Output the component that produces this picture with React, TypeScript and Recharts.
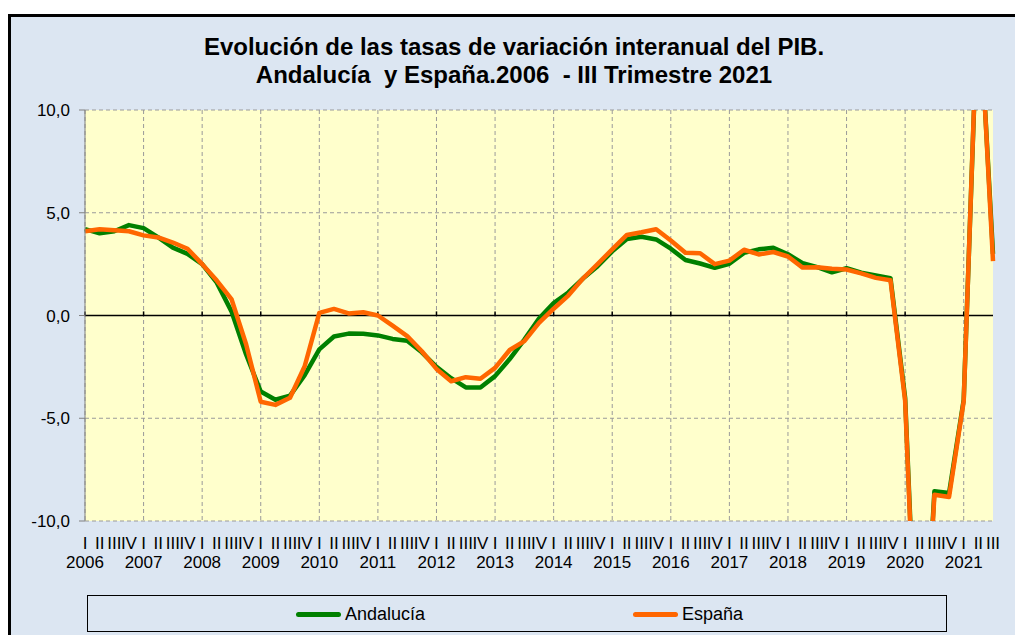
import React from 'react';
import { LineChart, Line, XAxis, YAxis, CartesianGrid, ReferenceLine } from 'recharts';

const years = [2006, 2007, 2008, 2009, 2010, 2011, 2012, 2013, 2014, 2015, 2016, 2017, 2018, 2019, 2020, 2021];
const quarters = ['I', 'II', 'III', 'IV'];

const andalucia = [
  4.2, 4.0, 4.1, 4.4,
  4.25, 3.8, 3.3, 3.0,
  2.5, 1.6, 0.2, -1.9,
  -3.7, -4.1, -3.9, -2.9,
  -1.65, -1.02, -0.88, -0.89,
  -0.97, -1.14, -1.23, -1.79,
  -2.5, -3.05, -3.5, -3.5,
  -2.95, -2.12, -1.17, -0.15,
  0.6, 1.12, 1.8, 2.4,
  3.12, 3.72, 3.83, 3.7,
  3.25, 2.7, 2.53, 2.32,
  2.52, 3.05, 3.22, 3.3,
  2.98, 2.55, 2.35, 2.1,
  2.3, 2.08, 1.95, 1.82,
  -4.0, -21.0, -8.55, -8.64,
  -4.1, 16.0, 3.0,
];

const espana = [
  4.1, 4.2, 4.15, 4.1,
  3.9, 3.8, 3.55, 3.25,
  2.5, 1.7, 0.8, -1.4,
  -4.2, -4.35, -4.0, -2.47,
  0.13, 0.32, 0.1, 0.16,
  0.0, -0.49, -1.0, -1.74,
  -2.6, -3.2, -3.0, -3.08,
  -2.55, -1.68, -1.25, -0.36,
  0.33, 0.97, 1.8, 2.5,
  3.22, 3.92, 4.05, 4.2,
  3.65, 3.05, 3.03, 2.5,
  2.67, 3.2, 2.97, 3.09,
  2.87, 2.33, 2.35, 2.27,
  2.24, 2.05, 1.83, 1.72,
  -4.15, -21.5, -8.72, -8.83,
  -4.17, 16.2, 2.65,
];

const yTicks = [-10, -5, 0, 5, 10];
const seriesKeys = ['and', 'esp'];
const seriesNames = ['Andalucía', 'España'];
const seriesColors = ['#008000', '#ff6600'];
const titleLines = ['Evolución de las tasas de variación interanual del PIB.', 'Andalucía  y España.2006  - III Trimestre 2021'];

const allCats: string[] = [];
years.forEach((y) => quarters.forEach((q) => allCats.push(`${q} ${y}`)));
const cats = allCats.slice(0, andalucia.length);
const data = cats.map((c, i) => ({ cat: c, and: andalucia[i], esp: espana[i] }));
const yearCats = cats.filter((c) => c.startsWith('I '));

const QTick = (props: any) => {
  const { x, y, payload } = props;
  const [q, yr] = String(payload.value).split(' ');
  return (
    <g>
      <text x={x} y={y + 28} textAnchor="middle" fontSize={17} fill="#000">{q}</text>
      {q === 'I' && (
        <text x={x} y={y + 47} textAnchor="middle" fontSize={17} fill="#000">{yr}</text>
      )}
    </g>
  );
};

const fmt = (v: number) => v.toFixed(1).replace('.', ',');

export default function App() {
  const font = '"Liberation Sans", Arial, sans-serif';
  return (
    <div style={{ position: 'fixed', left: 0, top: 0, width: 1015, height: 635, overflow: 'hidden', fontFamily: font }}>
      <div
        style={{
          position: 'absolute', left: 8, top: 14, width: 1007, height: 621, boxSizing: 'border-box',
          borderLeft: '3px solid #000', borderTop: '3px solid #000', background: '#dce6f2',
        }}
      />
      <div
        style={{
          position: 'absolute', left: 14, top: 33, width: 1000, textAlign: 'center', fontWeight: 'bold',
          fontSize: 24, lineHeight: '28px', whiteSpace: 'pre', color: '#000',
        }}
      >
        {titleLines.map((t) => (
          <div key={t}>{t}</div>
        ))}
      </div>
      <div style={{ position: 'absolute', left: 0, top: 0 }}>
        <LineChart width={1015} height={635} data={data} margin={{ top: 110, right: 22, bottom: 54, left: 0 }}>
          <CartesianGrid
            fill="#ffffcc"
            stroke="#9a9a9a"
            strokeDasharray="4 3"
            verticalValues={yearCats}
            horizontalValues={yTicks}
          />
          <XAxis
            dataKey="cat"
            interval={0}
            tickLine={false}
            axisLine={false}
            tickSize={0}
            tickMargin={0}
            height={60}
            tick={<QTick />}
          />
          <YAxis
            type="number"
            domain={[-10, 10]}
            ticks={yTicks}
            allowDataOverflow
            width={85}
            tickFormatter={fmt}
            tickSize={6}
            tickMargin={9}
            axisLine={{ stroke: '#808080' }}
            tickLine={{ stroke: '#808080' }}
            tick={{ fontSize: 17, fill: '#000' }}
          />
          <ReferenceLine y={0} stroke="#000" strokeWidth={1.5} />
          {yearCats.map((c) => (
            <ReferenceLine key={c} segment={[{ x: c, y: 0 }, { x: c, y: 0.2 }]} stroke="#000" strokeWidth={1.5} />
          ))}
          {seriesKeys.map((k, i) => (
            <Line
              key={k}
              type="linear"
              dataKey={k}
              name={seriesNames[i]}
              stroke={seriesColors[i]}
              strokeWidth={4.5}
              strokeLinejoin="round"
              dot={false}
              activeDot={false}
              isAnimationActive={false}
            />
          ))}
        </LineChart>
      </div>
      <div
        style={{
          position: 'absolute', left: 87, top: 595, width: 860, height: 37, boxSizing: 'border-box',
          border: '1.5px solid #000',
        }}
      />
      {seriesNames.map((n, i) => (
        <div
          key={n}
          style={{
            position: 'absolute', left: i === 0 ? 296 : 633, top: 603, height: 22, display: 'flex',
            alignItems: 'center', fontSize: 18, color: '#000',
          }}
        >
          <span style={{ display: 'inline-block', width: 45, height: 5, borderRadius: 2.5, background: seriesColors[i], marginRight: 4 }} />
          <span>{n}</span>
        </div>
      ))}
    </div>
  );
}
